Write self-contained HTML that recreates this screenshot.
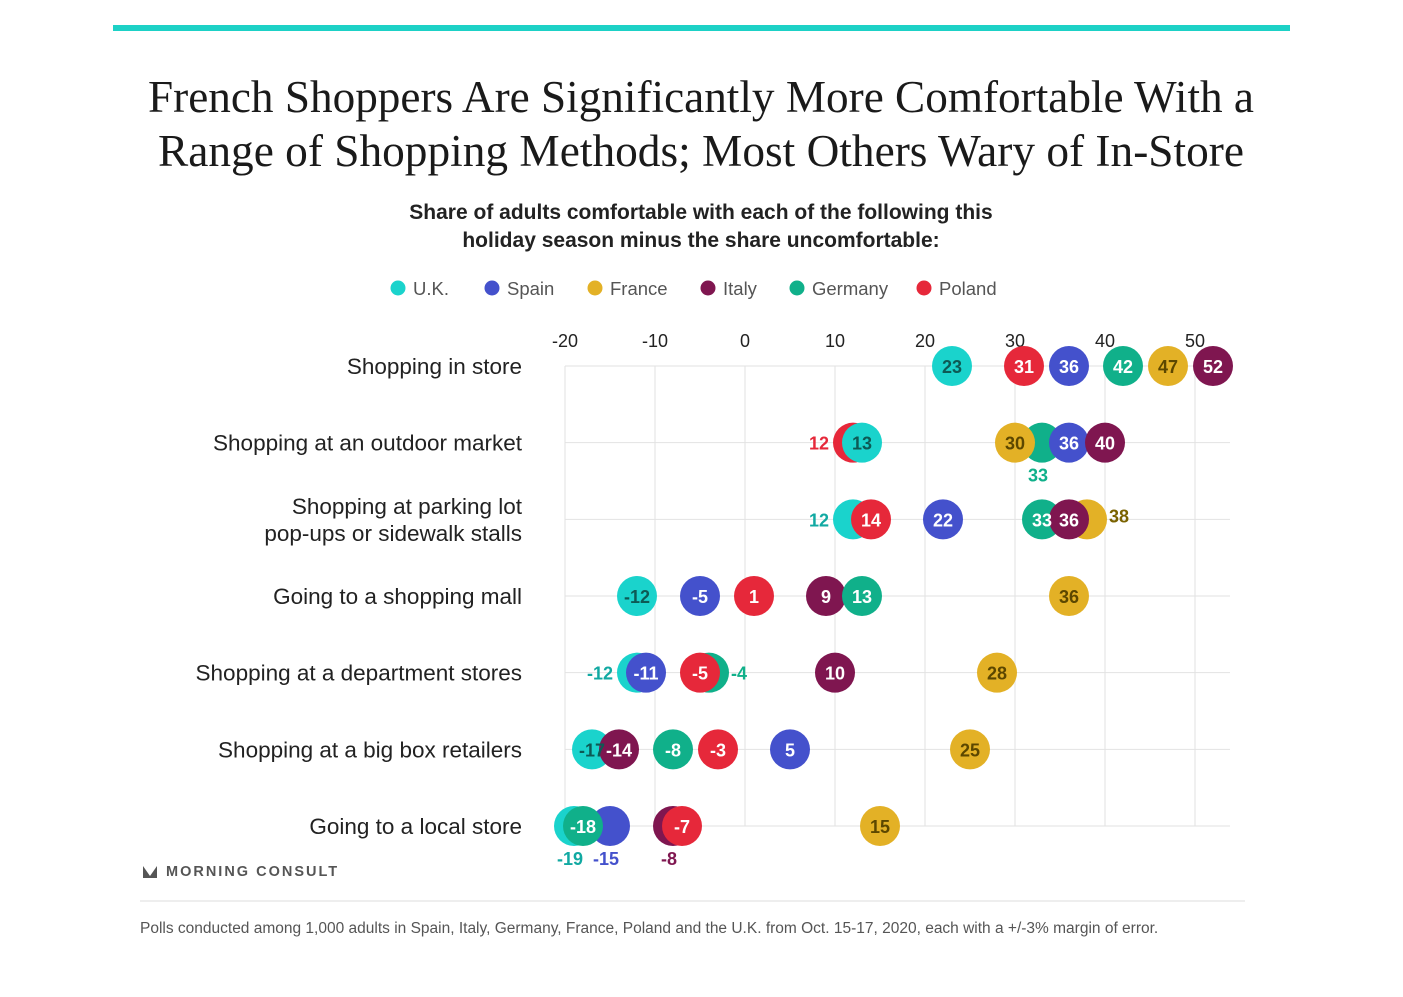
<!DOCTYPE html>
<html><head><meta charset="utf-8"><style>
body{margin:0;background:#fff;width:1403px;height:992px;overflow:hidden;font-family:"Liberation Sans",sans-serif}
</style></head><body>
<svg width="1403" height="992" xmlns="http://www.w3.org/2000/svg">
<rect x="113" y="25" width="1177" height="6" fill="#1dd1c6"/>
<g font-family="Liberation Serif, serif" font-size="45" fill="#1a1a1a" text-anchor="middle">
<text x="701" y="112" textLength="1106" lengthAdjust="spacingAndGlyphs">French Shoppers Are Significantly More Comfortable With a</text>
<text x="701" y="166" textLength="1086" lengthAdjust="spacingAndGlyphs">Range of Shopping Methods; Most Others Wary of In-Store</text>
</g>
<g font-size="21" font-weight="bold" fill="#222" text-anchor="middle">
<text x="701" y="219">Share of adults comfortable with each of the following this</text>
<text x="701" y="247">holiday season minus the share uncomfortable:</text>
</g>
<g id="legend"></g>
<g id="grid"></g>
<g id="marks"></g>
<g>
<path d="M143 866 L150 876 L157 866 L157 878 L143 878 Z" fill="#555"/>
<text x="166" y="876" font-size="14.5" font-weight="bold" fill="#555" letter-spacing="2">MORNING CONSULT</text>
</g>
<line x1="140" y1="901" x2="1245" y2="901" stroke="#ddd"/>
<text x="140" y="933" font-size="15.5" fill="#555">Polls conducted among 1,000 adults in Spain, Italy, Germany, France, Poland and the U.K. from Oct. 15-17, 2020, each with a +/-3% margin of error.</text>
</svg>
<script>
const categories=["Shopping in store","Shopping at an outdoor market","Shopping at parking lot|pop-ups or sidewalk stalls","Going to a shopping mall","Shopping at a department stores","Shopping at a big box retailers","Going to a local store"];
const countries=["U.K.","Spain","France","Italy","Germany","Poland"];
const ukValues=[23,13,12,-12,-12,-17,-19];
const spainValues=[36,36,22,-5,-11,5,-15];
const franceValues=[47,30,38,36,28,25,15];
const italyValues=[52,40,36,9,10,-14,-8];
const germanyValues=[42,33,33,13,-4,-8,-18];
const polandValues=[31,12,14,1,-5,-3,-7];
const xTicks=[-20,-10,0,10,20,30,40,50];
// drawing order per row (bottom -> top) and label placement hints (i=inside,l=left,r=right,b=below)
const zOrder=[[0,1,2,3,4,5],[5,0,4,2,1,3],[0,5,1,2,4,3],[0,1,2,3,4,5],[0,1,4,5,3,2],[0,3,4,5,1,2],[0,1,4,3,5,2]];
const labelPos=[["i","i","i","i","i","i"],["i","i","i","i","b","l"],["l","i","r","i","i","i"],["i","i","i","i","i","i"],["l","i","i","i","r","i"],["i","i","i","i","i","i"],["b","b","i","b","i","i"]];
const series=[ukValues,spainValues,franceValues,italyValues,germanyValues,polandValues];
const fills=["#1ad3cc","#4451cc","#e3b126","#7f1650","#10b08a","#e6283a"];
const inTxt=["#0d5a55","#fff","#5c4700","#fff","#fff","#fff"];
const outTxt=["#11a9a2","#4451cc","#7a6200","#7f1650","#10b08a","#e6283a"];
const NS="http://www.w3.org/2000/svg";
const x=v=>745+(v)*9;
const y=i=>366+i*76.67;
function mk(t,a,p){const e=document.createElementNS(NS,t);for(const k in a)e.setAttribute(k,a[k]);p.appendChild(e);return e;}
const leg=document.getElementById('legend');
const legX=[398,492,595,708,797,924];
countries.forEach((c,i)=>{
 const g=mk('g',{},leg);
 
 
 mk('circle',{cx:legX[i],cy:288,r:7.5,fill:fills[i]},g);
 const t=mk('text',{x:legX[i]+15,y:295,'font-size':18.5,fill:'#555'},g);t.textContent=c;
});
const grid=document.getElementById('grid');
xTicks.forEach(v=>{
 const l=mk('line',{x1:x(v),x2:x(v),y1:366,y2:826,stroke:'#e2e2e2'},grid);
 
 
 const t=mk('text',{x:x(v),y:347,'font-size':18,fill:'#222','text-anchor':'middle'},grid);t.textContent=v;
 
 
});
categories.forEach((c,i)=>{
 const l=mk('line',{x1:565,x2:1230,y1:y(i),y2:y(i),stroke:'#e2e2e2'},grid);
 
 
 const parts=c.split('|');
 parts.forEach((p,j)=>{
  const t=mk('text',{x:522,y:y(i)+8+(j-(parts.length-1)/2)*27,'font-size':22.5,fill:'#222','text-anchor':'end'},grid);
  t.textContent=p;
  
  
 });
});
const marks=document.getElementById('marks');
categories.forEach((c,i)=>{
 zOrder[i].forEach(k=>{
  const ci=mk('circle',{cx:x(series[k][i]),cy:y(i),r:20,fill:fills[k]},marks);
  
  
 });
 zOrder[i].forEach(k=>{
  const v=series[k][i],cx=x(v),cy=y(i),pos=labelPos[i][k];
  let tx=cx,ty=cy+7,anchor='middle',col=inTxt[k];
  if(pos==='l'){tx=cx-24;anchor='end';col=outTxt[k];}
  else if(pos==='r'){tx=cx+22;anchor='start';col=outTxt[k];ty=cy+(v>30?3:7);}
  else if(pos==='b'){ty=cy+39;col=outTxt[k];tx=cx-4;}
  const t=mk('text',{x:tx,y:ty,'font-size':18,'font-weight':'bold',fill:col,'text-anchor':anchor},marks);
  t.textContent=v;
  
  
 });
});
</script>
</body></html>
